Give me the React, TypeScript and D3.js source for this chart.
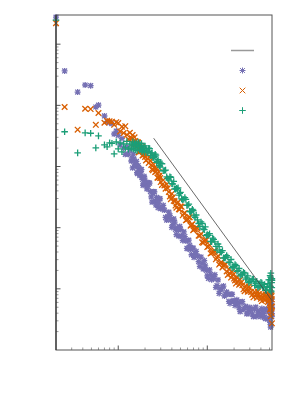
import React from 'react';
import * as d3 from 'd3';

// frequency grid shared by the three spectra
const freq = [
  2, 2.5, 3.5, 4.25, 4.9, 5.6, 6, 7, 7.5, 8, 8.5, 9, 9.5,
  10, 10.5, 11, 11.5, 12, 12.5, 13, 13.5, 14, 14.5, 15, 15.5, 16, 16.5, 17, 17.5, 18, 18.5, 19, 19.5, 20,
  21, 22, 23, 24, 25, 26, 27, 28, 29, 30,
  32, 34, 36, 38, 40, 42, 44, 46, 48, 50,
  53, 56, 59, 62, 65, 68, 71, 75,
  80, 85, 90, 95, 100,
  106, 112, 118, 125, 132, 140, 148, 156, 165, 175, 185, 195, 205, 215, 228, 240, 255, 270, 285, 300,
  320, 340, 360, 380, 400, 420, 440, 460, 480, 500, 505, 510, 515, 520, 525, 530, 533,
];
// in-between bins where the bands get dense
const freqMid = [
  14.25, 14.75, 15.25, 15.75, 16.25, 16.75, 17.25, 17.75, 18.25, 18.75, 19.25, 19.75,
  20.5, 21.5, 22.5, 23.5, 24.5, 25.5, 26.5, 27.5, 28.5, 29.5,
  31, 33, 35, 37, 39, 41, 43, 45, 47, 49,
  51.5, 54.5, 57.5, 60.5, 63.5, 66.5, 69.5, 73,
  77.5, 82.5, 87.5, 92.5, 97.5,
  103, 109, 115, 121.5, 128.5, 136, 144, 152, 160.5, 170, 180, 190, 200, 210, 221.5, 234, 247.5, 262.5, 277.5, 292.5,
  310, 330, 350, 370, 390, 410, 430, 450, 470, 490, 502.5, 507.5, 512.5, 517.5, 522.5, 527.5, 531.5,
];

// purple asterisks
const powerA = [
  277000, 36500, 16500, 21500, 21000, 9400, 10100, 6700, 5400, 5200, 5000, 3400, 3800,
  3240, 2250, 2870, 2010, 1580, 2100, 1590, 1890, 1230, 952, 1320, 1010, 1210, 764, 925, 712, 900, 660, 492, 693, 560,
  430, 541, 390, 262, 388, 273, 312, 212, 298, 204,
  232, 147, 152, 158, 101, 139, 94, 99.8, 72.6, 94.2,
  61.7, 71.6, 46, 62.5, 44.1, 46.5, 32.7, 41.1,
  27.9, 33.1, 21.1, 23.7, 16.3,
  20.4, 14.1, 14.8, 10.6, 14.0, 9.6, 10.7, 7.64, 8.85, 6.23, 8.15, 6.33, 5.35, 6.6, 4.9, 6.08, 4.63, 5.16, 3.99, 4.97,
  3.85, 4.7, 3.53, 4.31, 3.5, 4.43, 3.4, 4.67, 3.21, 5.85, 3.31, 5.5, 2.37, 4.17, 6.2, 3.5, 5.0,
];
const powerAMid = [
  1380, 1590, 1090, 1120, 796, 1030, 821, 793, 888, 614, 513, 646,
  546, 474, 535, 319, 364, 384, 234, 288, 245, 296,
  206, 194, 133, 179, 134, 112, 123, 76.9, 91.7, 105,
  73.5, 85.3, 60.8, 45.3, 51.6, 36.1, 46.3, 37.5,
  34.3, 23.2, 26, 29, 20,
  14.8, 17.2, 15, 17, 11.3, 8.4, 9.96, 11.1, 8.18, 8.13, 5.77, 8.15, 6.36, 6.25, 5.67, 4.25, 6.17, 4.9, 3.9, 4.53,
  4.54, 3.52, 5.02, 4.05, 3.81, 4.77, 3.96, 3.27, 4.5, 4.17, 6.36, 2.84, 5.35, 2.58, 4.45, 6.74, 3.93,
];

// orange crosses
const powerB = [
  221000, 9400, 4000, 8800, 8700, 4800, 7500, 5200, 5600, 5500, 5400, 4800, 5300,
  5130, 3740, 4470, 3530, 4560, 3300, 2790, 3560, 2870, 3270, 2280, 2600, 2110, 2510, 1700, 2180, 1780, 2100, 1530, 1690, 1430,
  1560, 1140, 1250, 905, 1070, 810, 928, 655, 707, 557,
  600, 433, 442, 323, 359, 275, 230, 254, 200, 223,
  159, 173, 135, 148, 108, 114, 94.2, 101,
  73.8, 79.1, 56.6, 61.9, 48.1,
  52, 38.8, 40.9, 30.4, 34.4, 26.4, 22.3, 24.5, 19.2, 20.9, 15.3, 17, 13.7, 15.4, 11.7, 12.7, 9.81, 11.1, 8.97, 10.2,
  8.03, 8.93, 7.12, 8.21, 6.87, 8.1, 6.57, 7.45, 6.1, 7.53, 5.77, 7.69, 4.85, 8.05, 4.05, 6.74, 5.14,
];
const powerBMid = [
  2900, 2430, 3000, 2340, 2300, 2450, 1780, 1970, 1930, 1520, 1870, 1590,
  1260, 1330, 1420, 1060, 866, 952, 830, 660, 815, 648,
  500, 490, 509, 384, 293, 314, 270, 212, 262, 199,
  219, 170, 132, 139, 148, 112, 91, 96,
  98.1, 74.3, 57.7, 60, 63.3,
  49.2, 37.9, 39.8, 41.8, 32.3, 24.9, 27.2, 23.8, 25.2, 16.9, 17.8, 19.1, 14.7, 12.2, 13.2, 14.1, 11.4, 9.14, 9.96, 10.9,
  8.88, 7.26, 8.08, 9.05, 7.5, 6.31, 7.16, 8.15, 6.9, 6.52, 8.76, 4.58, 7.35, 3.56, 5.11, 7.6, 2.73,
];

// green pluses
const powerC = [
  247000, 3700, 1670, 3550, 3500, 2020, 3170, 2260, 2100, 2430, 2400, 1610, 2530,
  1940, 2430, 1740, 2340, 2020, 2570, 1920, 2340, 2000, 2530, 2180, 1870, 2380, 2010, 2390, 1860, 2140, 1750, 2160, 1830, 2170,
  1720, 1990, 1520, 1670, 1400, 1590, 1170, 1300, 1030, 1140,
  853, 872, 636, 682, 525, 570, 426, 433, 340, 377,
  287, 310, 231, 242, 182, 199, 156, 161,
  117, 124, 95.4, 103, 76.9,
  79.7, 59, 64.3, 49.5, 54.1, 40, 42.3, 31.9, 35, 27.2, 30.2, 23.1, 25, 19.4, 21.5, 17.2, 18.6, 14.4, 16.3, 13.3,
  14.4, 11.4, 13.3, 10.9, 12.8, 10.4, 11.8, 9.46, 12.1, 11.1, 14.1, 10.6, 15.5, 9.28, 14.0, 10.5, 13.7,
];
const powerCMid = [
  2260, 1940, 2430, 2230, 1820, 2500, 2110, 1930, 2380, 1940, 1990, 1690,
  1970, 1760, 1960, 1650, 1390, 1470, 1530, 1220, 1180, 981,
  1110, 859, 677, 598, 668, 518, 431, 440, 447, 364,
  295, 292, 290, 232, 185, 187, 191, 147,
  134, 104, 117, 92.8, 74.5,
  75, 59.6, 67.4, 58.7, 42.9, 49, 39.6, 32.1, 32.7, 33.1, 26.8, 22.1, 23, 24, 19.9, 16.3, 17.2, 18, 15.1, 12.7,
  13.4, 14.3, 12.3, 10.5, 11.3, 12.4, 10.8, 9.46, 10.9, 14.0, 9.6, 16.5, 11.0, 18.0, 8.9, 12.6, 14.7,
];

// reference power law line (slope -2)
const refX = [25, 533];
const refY = [2900, 6.4];

const W = 300;
const H = 400;
const left = 56, right = 272, top = 15, bottom = 350;

const plus = (r) => `M${-r},0H${r}M0,${-r}V${r}`;
const cross = (r) => `M${-r},${-r}L${r},${r}M${-r},${r}L${r},${-r}`;
const star = (r) => plus(r) + cross(r * 0.8);

const series = [
  { name: 'A', values: powerA, mid: powerAMid, color: '#7570b3', shape: star(3) },
  { name: 'B', values: powerB, mid: powerBMid, color: '#d95f02', shape: cross(2.8) },
  { name: 'C', values: powerC, mid: powerCMid, color: '#1b9e77', shape: plus(3.3) },
];

export default function App() {
  const x = d3.scaleLog().domain([2, 533]).range([left, right]);
  const y = d3.scaleLog().domain([1, 3e5]).range([bottom, top]);

  const isMajor = (v) => Math.abs(Math.log10(v) - Math.round(Math.log10(v))) < 1e-9;
  const xTicks = x.ticks().filter((v) => x(v) > left + 1 && x(v) < right - 1);
  const yTicks = y.ticks().filter((v) => y(v) < bottom - 1 && y(v) > top + 1);

  const line = d3.line<number>().x((d, i) => x(refX[i])).y((d, i) => y(refY[i]));

  return (
    <svg width={W} height={H} style={{ position: 'absolute', left: 0, top: 0, background: '#fff' }}>
      <rect x={0} y={0} width={W} height={H} fill="#fff" />
      {/* ticks, drawn inward */}
      {xTicks.map((v) => (
        <line key={'xt' + v} x1={x(v)} x2={x(v)} y1={bottom} y2={bottom - (isMajor(v) ? 4.5 : 2.5)}
          stroke={isMajor(v) ? '#555' : '#999'} strokeWidth={1} />
      ))}
      {yTicks.map((v) => (
        <line key={'yt' + v} x1={left} x2={left + (isMajor(v) ? 4.5 : 2.5)} y1={y(v)} y2={y(v)}
          stroke={isMajor(v) ? '#555' : '#999'} strokeWidth={1} />
      ))}
      {series.map((s) => (
        <g key={s.name} stroke={s.color} strokeWidth={1.3} fill="none">
          {s.values.map((v, i) => (
            <path key={'p' + i} d={s.shape} transform={`translate(${x(freq[i])},${y(v)})`} />
          ))}
          {s.mid.map((v, i) => (
            <path key={'m' + i} d={s.shape} transform={`translate(${x(freqMid[i])},${y(v)})`} />
          ))}
        </g>
      ))}
      <path d={line(refX) || ''} fill="none" stroke="#444" strokeWidth={0.8} />
      {/* frame */}
      <rect x={left} y={top} width={right - left} height={bottom - top} fill="none" stroke="#555" strokeWidth={1} />
      <line x1={left} x2={left} y1={top} y2={bottom} stroke="#333" strokeWidth={1.2} />
      {/* key */}
      <line x1={231} x2={254} y1={50.5} y2={50.5} stroke="#999" strokeWidth={1.5} />
      {series.map((s, i) => (
        <path key={'k' + s.name} d={s.shape} transform={`translate(242.5,${70.5 + i * 20})`}
          stroke={s.color} strokeWidth={1} fill="none" />
      ))}
    </svg>
  );
}
